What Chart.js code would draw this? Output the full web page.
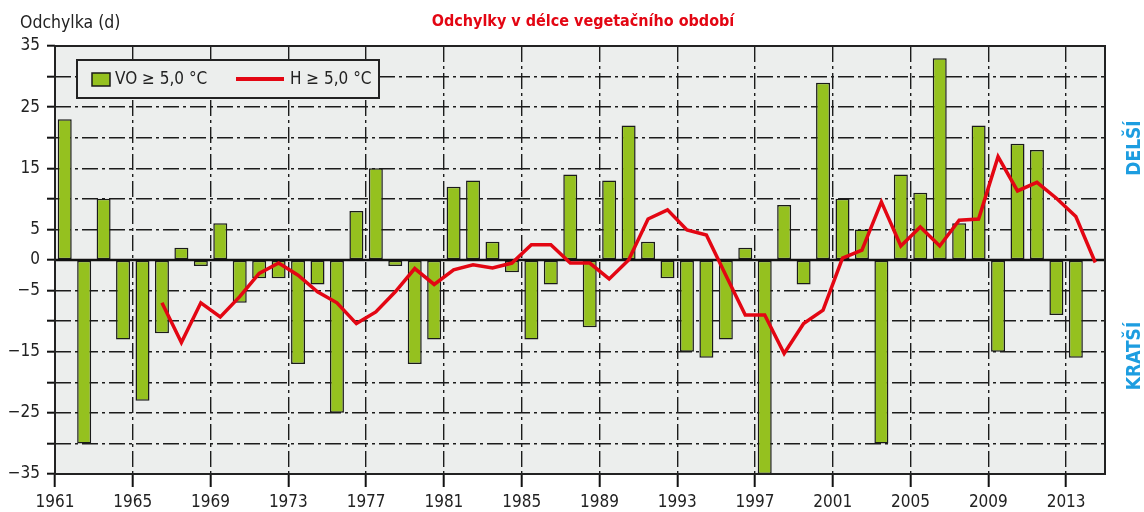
<!DOCTYPE html>
<html lang="cs">
<head>
<meta charset="utf-8">
<title>Odchylky v délce vegetačního období</title>
<script src="https://cdn.jsdelivr.net/npm/chart.js@4.4.1/dist/chart.umd.min.js"></script>
<style>
  html, body { margin: 0; padding: 0; background: #ffffff; }
  #wrap { width: 1144px; height: 512px; }
</style>
</head>
<body>
<div id="wrap"><canvas id="chart" width="1144" height="512"></canvas></div>
<script>
// Data
const years = [
    1961, 1962, 1963, 1964, 1965, 1966, 1967, 1968, 1969, 1970,
    1971, 1972, 1973, 1974, 1975, 1976, 1977, 1978, 1979, 1980,
    1981, 1982, 1983, 1984, 1985, 1986, 1987, 1988, 1989, 1990,
    1991, 1992, 1993, 1994, 1995, 1996, 1997, 1998, 1999, 2000,
    2001, 2002, 2003, 2004, 2005, 2006, 2007, 2008, 2009, 2010,
    2011, 2012, 2013, 2014
];

// VO >= 5,0 °C (bars)
const voDays = [
    23, -30, 10, -13, -23, -12, 2, -1, 6, -7,
    -3, -3, -17, -4, -25, 8, 15, -1, -17, -13,
    12, 13, 3, -2, -13, -4, 14, -11, 13, 22,
    3, -3, -15, -16, -13, 2, -35, 9, -4, 29,
    10, 5, -30, 14, 11, 33, 6, 22, -15, 19,
    18, -9, -16, null
];

// H >= 5,0 °C (line)
const hDays = [
    null, null, null, null, null, -7, -13.5, -7, -9.3, -6,
    -2.2, -0.5, -2.5, -5.2, -7, -10.4, -8.5, -5.2, -1.4, -4,
    -1.6, -0.8, -1.3, -0.5, 2.5, 2.5, -0.5, -0.5, -3.1, 0,
    6.7, 8.2, 4.9, 4.1, -2.5, -9, -9, -15.3, -10.4, -8.2,
    0.3, 1.6, 9.5, 2.3, 5.4, 2.3, 6.5, 6.7, 16.9, 11.3,
    12.7, 10.1, 7.1, -0.4
];

const yearTicks = [1961, 1965, 1969, 1973, 1977, 1981, 1985, 1989, 1993, 1997, 2001, 2005, 2009, 2013];
const yLabels = [35, 25, 15, 5, 0, -5, -15, -25, -35];

const NARROW = "'Liberation Sans Narrow', 'Arial Narrow', 'DejaVu Sans Condensed', sans-serif";
const GRID = '#1c1c1c';
const DASH = [16, 4, 3, 4];
const BAR_GREEN = '#95c11f';
const LINE_RED = '#e30613';
const PLOT_BG = '#eceeed';
const BLUE = '#1d9de0';

function isYearTick(ctx) {
    return ctx.tick !== undefined && yearTicks.includes(years[ctx.index]);
}

function formatY(v) {
    if (!yLabels.includes(v)) return '';
    return v < 0 ? '\u2212' + Math.abs(v) : String(v);
}

const plotBackground = {
    id: 'plotBackground',
    beforeDraw(chart) {
        const { ctx, chartArea: a } = chart;
        ctx.save();
        ctx.fillStyle = PLOT_BG;
        ctx.fillRect(a.left, a.top, a.width, a.height);
        ctx.restore();
    }
};

const zeroLine = {
    id: 'zeroLine',
    beforeDatasetsDraw(chart) {
        const { ctx, chartArea: a } = chart;
        const y = chart.scales.y.getPixelForValue(0);
        ctx.save();
        ctx.strokeStyle = '#111111';
        ctx.lineWidth = 2.5;
        ctx.beginPath();
        ctx.moveTo(a.left, y);
        ctx.lineTo(a.right, y);
        ctx.stroke();
        ctx.restore();
    }
};

// frame, legend box and the loose texts round the plot
const decorations = {
    id: 'decorations',
    afterDatasetsDraw(chart) {
        const { ctx, chartArea: a } = chart;
        ctx.save();

        ctx.strokeStyle = '#222222';
        ctx.lineWidth = 2;
        ctx.strokeRect(a.left, a.top, a.width, a.height);

        // legend
        const lx = a.left + 22, ly = a.top + 14;
        ctx.fillStyle = PLOT_BG;
        ctx.fillRect(lx, ly, 302, 38);
        ctx.strokeRect(lx, ly, 302, 38);

        ctx.fillStyle = BAR_GREEN;
        ctx.fillRect(lx + 15, ly + 13, 18, 13);
        ctx.lineWidth = 1.5;
        ctx.strokeStyle = '#1a1a1a';
        ctx.strokeRect(lx + 15, ly + 13, 18, 13);

        ctx.strokeStyle = LINE_RED;
        ctx.lineWidth = 4;
        ctx.beginPath();
        ctx.moveTo(lx + 159, ly + 19);
        ctx.lineTo(lx + 207, ly + 19);
        ctx.stroke();

        ctx.fillStyle = '#222222';
        ctx.font = '17px ' + NARROW;
        ctx.textBaseline = 'middle';
        ctx.textAlign = 'left';
        ctx.fillText('VO \u2265 5,0 \u00b0C', lx + 38, ly + 20);
        ctx.fillText('H \u2265 5,0 \u00b0C', lx + 213, ly + 20);

        // axis caption and title
        ctx.font = '17.5px ' + NARROW;
        ctx.fillText('Odchylka (d)', 20, 23);
        ctx.fillStyle = LINE_RED;
        ctx.font = 'bold 16px ' + NARROW;
        ctx.textAlign = 'center';
        ctx.fillText('Odchylky v délce vegetačního období', 583, 22);

        // side notes
        ctx.fillStyle = BLUE;
        ctx.font = 'bold 19px ' + NARROW;
        ctx.translate(1135, 148);
        ctx.rotate(-Math.PI / 2);
        ctx.fillText('DELŠÍ', 0, 0);
        ctx.rotate(Math.PI / 2);
        ctx.translate(0, 208);
        ctx.rotate(-Math.PI / 2);
        ctx.fillText('KRATŠÍ', 0, 0);

        ctx.restore();
    }
};

const chart = new Chart(document.getElementById('chart'), {
    data: {
        labels: years,
        datasets: [{
            type: 'line',
            label: 'H \u2265 5,0 \u00b0C',
            data: hDays,
            borderColor: LINE_RED,
            borderWidth: 3.5,
            pointRadius: 0,
            tension: 0,
            order: 1
        }, {
            type: 'bar',
            label: 'VO \u2265 5,0 \u00b0C',
            data: voDays,
            backgroundColor: BAR_GREEN,
            borderColor: '#1a1a1a',
            borderWidth: 1.5,
            borderSkipped: false,
            barPercentage: 0.72,
            categoryPercentage: 1,
            order: 2
        }]
    },
    options: {
        responsive: false,
        animation: false,
        devicePixelRatio: 1,
        layout: {
            padding: { top: 46, right: 39, left: 0, bottom: 0 }
        },
        plugins: {
            legend: { display: false },
            title: { display: false },
            tooltip: { enabled: false }
        },
        scales: {
            x: {
                type: 'category',
                offset: true,
                grid: {
                    offset: true,
                    color: ctx => isYearTick(ctx) ? GRID : 'rgba(0,0,0,0)',
                    lineWidth: 1.4,
                    tickLength: 13,
                    tickWidth: 2,
                    tickColor: ctx => isYearTick(ctx) ? '#111111' : 'rgba(0,0,0,0)',
                    tickBorderDash: []
                },
                border: { display: false, dash: DASH },
                ticks: {
                    autoSkip: false,
                    maxRotation: 0,
                    minRotation: 0,
                    padding: 5,
                    labelOffset: -9.72,
                    color: '#222222',
                    font: { family: NARROW, size: 17 },
                    callback: (v, i) => yearTicks.includes(years[i]) ? String(years[i]) : ''
                },
                afterFit: scale => { scale.height = 38; }
            },
            y: {
                min: -35,
                max: 35,
                grid: {
                    color: GRID,
                    lineWidth: 1.4,
                    tickLength: 8,
                    tickWidth: 2,
                    tickColor: '#111111',
                    tickBorderDash: []
                },
                border: { display: false, dash: DASH },
                ticks: {
                    stepSize: 5,
                    autoSkip: false,
                    padding: 7,
                    color: '#222222',
                    font: { family: NARROW, size: 17 },
                    callback: v => formatY(v)
                },
                afterFit: scale => { scale.width = 55; }
            }
        }
    },
    plugins: [plotBackground, zeroLine, decorations]
});
</script>
</body>
</html>
